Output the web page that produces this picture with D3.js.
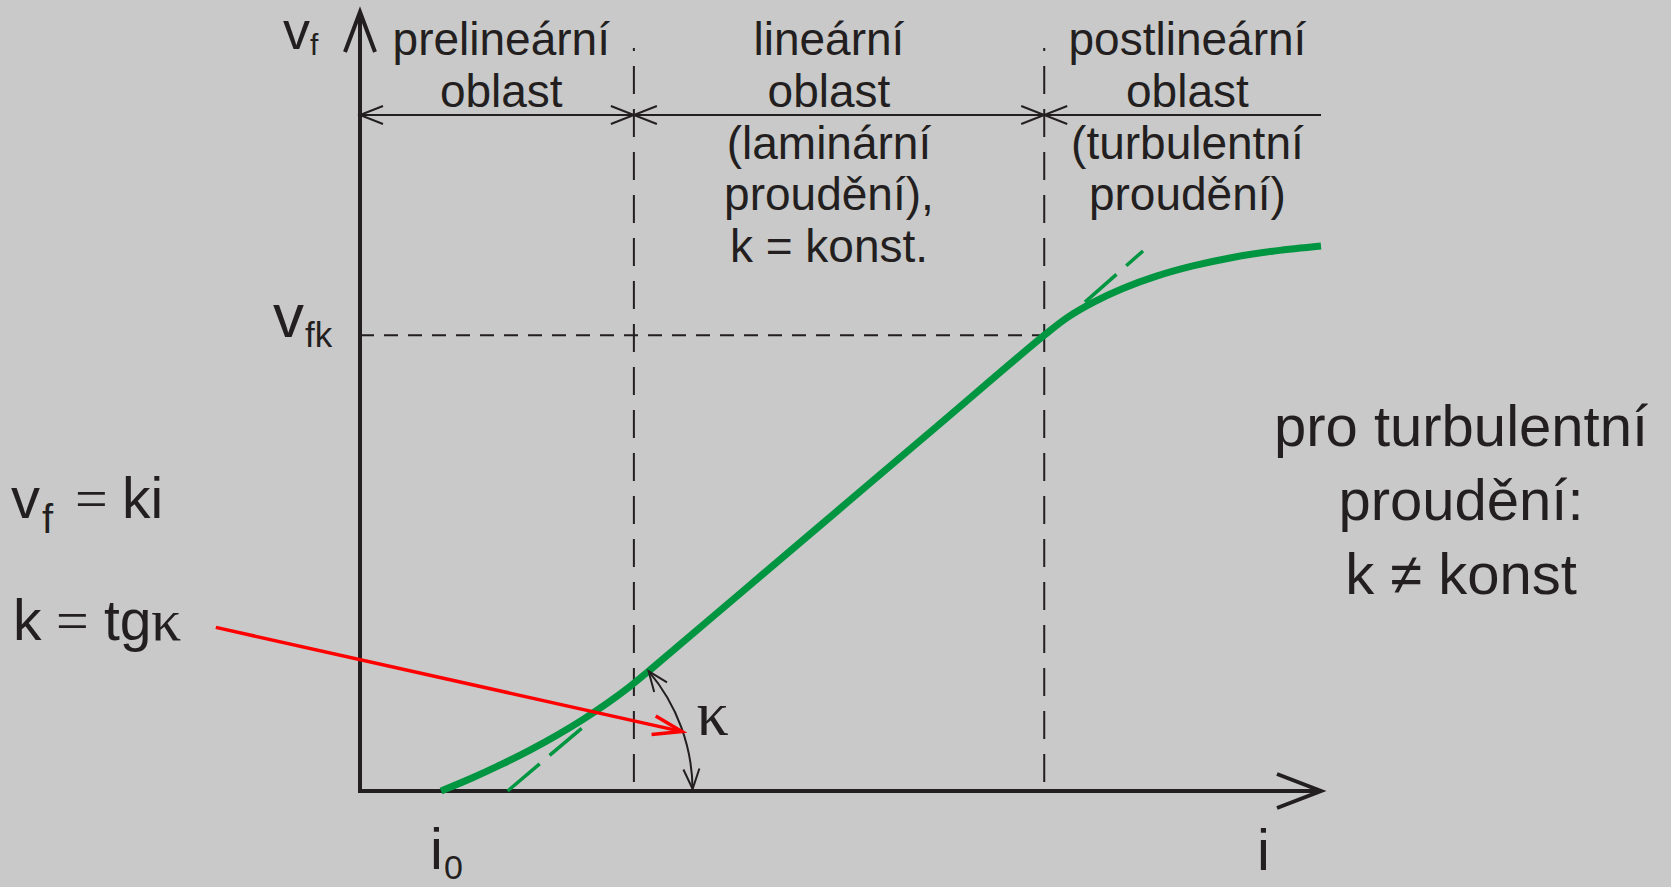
<!DOCTYPE html>
<html>
<head>
<meta charset="utf-8">
<script src="https://cdn.jsdelivr.net/npm/d3@7"></script>
<style>
  body { margin: 0; background: #c9c9c9; overflow: hidden; }
  text { font-family: "Liberation Sans", Arial, sans-serif; fill: #231f20; }
  .serif { font-family: "Liberation Serif", "Times New Roman", serif; }
</style>
</head>
<body>
<div id="chart-area"></div>
<script>
// curve v_f(i) (i: 0..100, v: 0..80)
var curveI = [8.43, 11.71, 14.82, 17.78, 20.58, 23.22, 25.70, 28.02, 30.18, 40, 50, 60, 71.2, 73.59, 76.34, 79.44, 82.88, 86.67, 90.80, 95.28, 100];
var curveV = [0, 1.36, 2.78, 4.25, 5.78, 7.36, 9.00, 10.69, 12.43, 20.66, 29.04, 37.42, 46.8, 48.62, 50.21, 51.63, 52.87, 53.92, 54.79, 55.47, 55.97];

// dashed tangent pieces (extension of the linear part)
var tangentLow = [[15.36, 0], [23.22, 6.57]];
var tangentHigh = [[75.44, 50.2], [81.48, 55.46]];

// region borders and labels
var regionBounds = [0, 28.5, 71.2, 100];
var regionCenters = [14.7, 48.8, 86.1];
var regionLabels = [
    ["prelineární", "oblast"],
    ["lineární", "oblast", "(laminární", "proudění),", "k = konst."],
    ["postlineární", "oblast", "(turbulentní", "proudění)"]
];
var vfk = 46.8;
var i0 = 8.43;
var kappaVertex = 15.36;
var noteLines = ["pro turbulentní", "proudění:", "k \u2260 konst"];

// red pointer from the formula to the angle
var pointerFrom = [-15.0, 16.8];
var pointerTo = [33.5, 6.1];

var width = 1671, height = 887;
var ink = "#231f20", green = "#009540";

var svg = d3.select("#chart-area")
    .append("svg")
    .attr("width", width)
    .attr("height", height)
    .style("display", "block");

svg.append("rect").attr("width", width).attr("height", height).attr("fill", "#c9c9c9");

// Scales
var x = d3.scaleLinear().domain([0, 100]).range([360, 1321]);
var y = d3.scaleLinear().domain([0, 80]).range([791, 12]);

// open V arrow head, tip at (tx,ty), pointing along angle a
function arrowHead(g, tx, ty, a, len, half, w, color) {
    var bx = tx - len * Math.cos(a), by = ty - len * Math.sin(a);
    var nx = -Math.sin(a), ny = Math.cos(a);
    g.append("path")
        .attr("d", `M${bx + nx * half},${by + ny * half}L${tx},${ty}L${bx - nx * half},${by - ny * half}`)
        .attr("fill", "none")
        .attr("stroke", color)
        .attr("stroke-width", w)
        .attr("stroke-linejoin", "miter");
}

var g = svg.append("g");

// dashed region borders
regionBounds.slice(1, 3).forEach(b => {
    g.append("line")
        .attr("x1", x(b)).attr("x2", x(b))
        .attr("y1", 48).attr("y2", y(0))
        .attr("stroke", ink).attr("stroke-width", 2)
        .attr("stroke-dasharray", "28,15")
        .attr("stroke-dashoffset", 25);
});

// v_fk dashed line
g.append("line")
    .attr("x1", x(0)).attr("x2", x(regionBounds[2]))
    .attr("y1", y(vfk)).attr("y2", y(vfk))
    .attr("stroke", ink).attr("stroke-width", 2)
    .attr("stroke-dasharray", "14,10");

// dimension line with arrows
var dimY = 115;
g.append("line")
    .attr("x1", x(0)).attr("x2", x(100))
    .attr("y1", dimY).attr("y2", dimY)
    .attr("stroke", ink).attr("stroke-width", 2);
arrowHead(g, x(0), dimY, Math.PI, 23, 9, 2, ink);
regionBounds.slice(1, 3).forEach(b => {
    arrowHead(g, x(b), dimY, 0, 23, 9, 2, ink);
    arrowHead(g, x(b), dimY, Math.PI, 23, 9, 2, ink);
});

// region labels
regionLabels.forEach((lines, k) => {
    lines.forEach((t, j) => {
        g.append("text")
            .attr("x", x(regionCenters[k]))
            .attr("y", 55 + j * 51.8)
            .attr("text-anchor", "middle")
            .attr("font-size", 46)
            .text(t);
    });
});

// axes
g.append("line")
    .attr("x1", x(0)).attr("x2", x(0))
    .attr("y1", y(0) + 2).attr("y2", y(80) + 3)
    .attr("stroke", ink).attr("stroke-width", 4);
g.append("line")
    .attr("x1", x(0) - 2).attr("x2", x(100) - 3)
    .attr("y1", y(0)).attr("y2", y(0))
    .attr("stroke", ink).attr("stroke-width", 4);
arrowHead(g, x(0), y(80), -Math.PI / 2, 40, 15, 4, ink);
arrowHead(g, x(100), y(0), 0, 44, 17, 4, ink);

// green dashed tangents
[tangentLow, tangentHigh].forEach(seg => {
    g.append("line")
        .attr("x1", x(seg[0][0])).attr("y1", y(seg[0][1]))
        .attr("x2", x(seg[1][0])).attr("y2", y(seg[1][1]))
        .attr("stroke", green).attr("stroke-width", 3.5)
        .attr("stroke-dasharray", "42,13");
});

// green curve
var curveData = curveI.map((d, k) => [d, curveV[k]]);
var line = d3.line().x(d => x(d[0])).y(d => y(d[1])).curve(d3.curveCatmullRom.alpha(0.5));
g.append("path")
    .datum(curveData)
    .attr("d", line)
    .attr("fill", "none")
    .attr("stroke", green)
    .attr("stroke-width", 7);

// angle kappa arc
var slopePx = (y(tangentHigh[1][1]) - y(tangentLow[0][1])) / (x(tangentHigh[1][0]) - x(tangentLow[0][0]));
var theta = Math.atan(slopePx); // negative, up-right
var cx = x(kappaVertex), cy = y(0), r = 185;
var p = d3.path();
p.arc(cx, cy, r, theta, 0, false);
g.append("path").attr("d", p.toString()).attr("fill", "none").attr("stroke", ink).attr("stroke-width", 2);
arrowHead(g, cx + r * Math.cos(theta), cy + r * Math.sin(theta),
    Math.atan2(-Math.cos(theta), Math.sin(theta)) + 0.06, 20, 8, 2, ink);
arrowHead(g, cx + r, cy - 2, Math.PI / 2 - 0.06, 20, 8, 2, ink);
g.append("text").attr("class", "serif")
    .attr("x", cx + r + 4).attr("y", y(0) - 56)
    .attr("font-size", 64)
    .text("\u03BA");

// red pointer
var px1 = x(pointerFrom[0]), py1 = y(pointerFrom[1]), px2 = x(pointerTo[0]), py2 = y(pointerTo[1]);
g.append("line")
    .attr("x1", px1).attr("y1", py1).attr("x2", px2 - 2).attr("y2", py2 - 0.5)
    .attr("stroke", "#ff0000").attr("stroke-width", 3.5);
arrowHead(g, px2, py2, Math.atan2(py2 - py1, px2 - px1), 29, 9.5, 3.5, "#ff0000");

// axis labels
function subLabel(xx, yy, main, sub, fs, sfs, dx, dy) {
    g.append("text").attr("x", xx).attr("y", yy).attr("font-size", fs).text(main);
    g.append("text").attr("x", xx + dx).attr("y", yy + dy).attr("font-size", sfs).text(sub);
}
subLabel(283, 49, "v", "f", 54, 30, 27, 6);
subLabel(273, y(vfk) + 2, "v", "fk", 62, 35, 32, 10);
subLabel(x(i0) - 11, 869, "i", "0", 58, 34, 14, 10);
g.append("text").attr("x", 1257).attr("y", 870).attr("font-size", 58).text("i");

// formulas on the left
g.append("text").attr("x", 11).attr("y", 518).attr("font-size", 58).text("v");
g.append("text").attr("x", 42).attr("y", 533).attr("font-size", 40).text("f");
g.append("text").attr("class", "serif").attr("x", 75).attr("y", 518).attr("font-size", 58).text("=");
g.append("text").attr("x", 122).attr("y", 518).attr("font-size", 57).text("ki");

g.append("text").attr("x", 13).attr("y", 640).attr("font-size", 57).text("k");
g.append("text").attr("class", "serif").attr("x", 56).attr("y", 640).attr("font-size", 58).text("=");
g.append("text").attr("x", 104).attr("y", 640).attr("font-size", 57).text("tg");
g.append("text").attr("class", "serif").attr("x", 151).attr("y", 640).attr("font-size", 60).text("\u03BA");

// note on the right
noteLines.forEach((t, j) => {
    g.append("text")
        .attr("x", 1461)
        .attr("y", 446 + j * 74)
        .attr("text-anchor", "middle")
        .attr("font-size", 58)
        .text(t);
});
</script>
</body>
</html>
